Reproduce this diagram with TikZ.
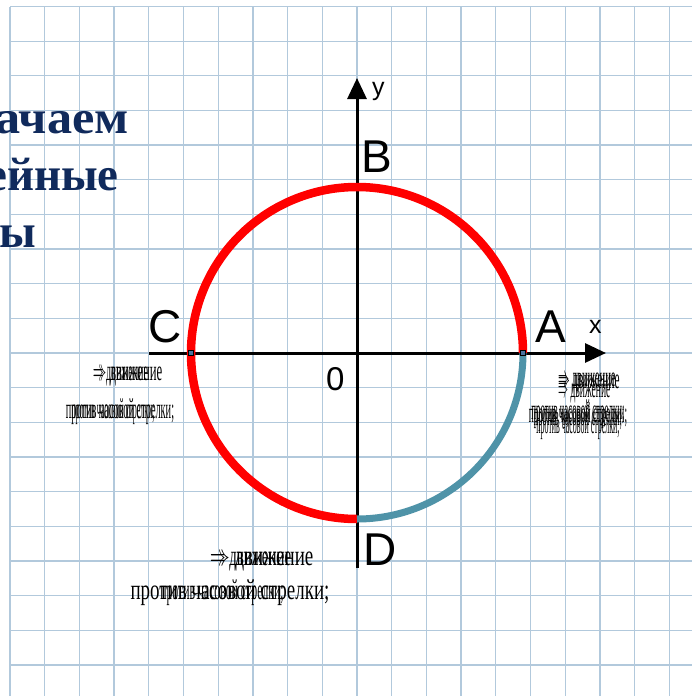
\documentclass[tikz,border=0pt]{standalone}
\usepackage{fontspec}
\usepackage{graphicx}
\setmainfont{Liberation Serif}
\newfontfamily\labfont{Liberation Sans}
\usetikzlibrary{arrows.meta}
\definecolor{CRed}{HTML}{FF0000}
\definecolor{CTeal}{HTML}{4F93A8}
\definecolor{CNavy}{HTML}{102A5C}
\definecolor{CGrid}{HTML}{B2C9DC}
\definecolor{CSteel}{HTML}{4A74A0}

\begin{document}
\begin{tikzpicture}[x=1pt,y=-1pt,
  lbl/.style={font=\labfont\fontsize{46}{46}\selectfont,inner sep=0pt,anchor=base west},
  axl/.style={font=\labfont\fontsize{25}{25}\selectfont,inner sep=0pt,anchor=base west},
  head/.style={font=\bfseries\fontsize{47}{57}\selectfont,color=CNavy,inner sep=0pt,anchor=base east},
  garb/.style={font=\fontsize{24}{34}\selectfont,inner sep=0pt},
  ax/.style={-{Triangle[length=21pt,width=19pt]},line width=3pt,black},
  arcline/.style={line width=8.5pt},
  dotsq/.style={fill=CSteel,draw=black,line width=0.6pt,minimum size=5pt,inner sep=0pt}
]
  \useasboundingbox (0,0) rectangle (692,696);
  \clip (0,0) rectangle (692,696);
  % grid
  \foreach \k in {0,...,19} {
    \draw[CGrid,line width=1.3pt] ({10+34.7*\k},6.5) -- ({10+34.7*\k},696);
    \draw[CGrid,line width=1.3pt] (10,{6.5+34.65*\k}) -- (692,{6.5+34.65*\k});
  }
  % heading, cut at the left edge
  \node[head] (h1) at (129,133) {\scalebox{1.07}[1]{качаем}};
  \node[head] (h2) at (119,190) {ейные};
  \node[head] (h3) at (36,247) {ы};
  % axes
  \coordinate (O) at (357,353);
  \coordinate (xl) at (149,353);
  \coordinate (xr) at (606,353);
  \coordinate (yb) at (357,568);
  \coordinate (yt) at (357,78);
  \draw[ax] (xl) -- (xr);
  \draw[ax] (yb) -- (yt);
  % unit circle
  \coordinate (Apt) at (523,353);
  \coordinate (Cpt) at (191,353);
  \draw[arcline,draw=CRed] (Apt) arc[start angle=0,end angle=-270,radius=166];
  \draw[arcline,line width=7pt,draw=CTeal] (Apt) arc[start angle=0,end angle=90,radius=166];
  \node[dotsq] (pA) at (Apt) {};
  \node[dotsq] (pC) at (Cpt) {};
  % labels
  \node[lbl] (A) at (535,342) {A};
  \node[lbl] (B) at (361,172) {B};
  \node[lbl] (C) at (148,342) {C};
  \node[lbl] (D) at (363,565) {D};
  \node[axl] (xlab) at (589,333) {x};
  \node[axl] (ylab) at (372,95) {y};
  \node[font=\labfont\fontsize{33}{33}\selectfont,inner sep=0pt,anchor=base west] (zero) at (326,390) {0};
  % overlapping captions
  \foreach \s/\n in {0.53/a,0.42/b}
    \node[garb,anchor=base west] (lone\n) at (93,380) {\scalebox{\s}[1.2]{$\Rightarrow$ движение}};
  \foreach \s/\n/\x in {0.43/a/120,0.33/b/113}
    \node[garb,anchor=base] (ltwo\n) at (\x,418) {\scalebox{\s}[1.2]{против часовой стрелки;}};
  \foreach \s/\n/\y in {0.47/a/388,0.44/b/386,0.40/c/397}
    \node[garb,anchor=base west] (rone\n) at (558,\y) {\scalebox{\s}[1.2]{$\Rightarrow$ движение}};
  \foreach \s/\n/\y in {0.39/a/422,0.37/b/419,0.35/c/425,0.33/d/433}
    \node[garb,anchor=base] (rtwo\n) at (578,\y) {\scalebox{\s}[1.2]{против часовой стрелки;}};
  \foreach \s/\n in {0.79/a,0.62/b}
    \node[garb,anchor=base west] (bone\n) at (210,565) {\scalebox{\s}[1.2]{$\Rightarrow$ движение}};
  \foreach \s/\n/\x in {0.79/a/230,0.49/b/222}
    \node[garb,anchor=base] (btwo\n) at (\x,599) {\scalebox{\s}[1.2]{против часовой стрелки;}};
\end{tikzpicture}
\end{document}
